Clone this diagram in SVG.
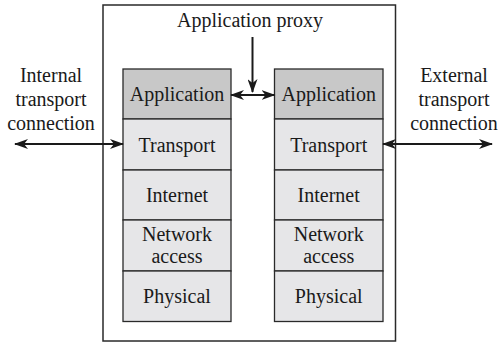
<svg xmlns="http://www.w3.org/2000/svg" width="500" height="343" viewBox="0 0 500 343">
<style>
text{font-family:"Liberation Serif","Times New Roman",serif;font-size:20px;fill:#1a1a1a;text-anchor:middle}
.app{fill:#c8c8c8;stroke:#2a2a2a;stroke-width:1.3}
.lyr{fill:#e6e6e8;stroke:#2a2a2a;stroke-width:1.3}
.frame{fill:none;stroke:#2a2a2a;stroke-width:1.5}
.conn{stroke:#1a1a1a;stroke-width:2;fill:none}
</style>
<defs>
<marker id="ah" viewBox="0 0 14 10" refX="13" refY="5" markerWidth="14" markerHeight="10" markerUnits="userSpaceOnUse" orient="auto-start-reverse">
<path d="M0,0 L14,5 L0,10 L4,5 Z" fill="#1a1a1a"/>
</marker>
</defs>
<g id="proxy-box">
<rect class="frame" x="103" y="5" width="292.5" height="336"/>
<text x="250" y="27">Application proxy</text>
</g>
<g id="left-stack">
<rect class="app" x="123" y="69" width="108" height="50"/>
<rect class="lyr" x="123" y="119" width="108" height="51"/>
<rect class="lyr" x="123" y="170" width="108" height="50"/>
<rect class="lyr" x="123" y="220" width="108" height="51"/>
<rect class="lyr" x="123" y="271" width="108" height="50.5"/>
<text x="177" y="101">Application</text>
<text x="177" y="152">Transport</text>
<text x="177" y="202">Internet</text>
<text x="177" y="241">Network</text>
<text x="177" y="263">access</text>
<text x="177" y="303">Physical</text>
</g>
<g id="right-stack">
<rect class="app" x="274.5" y="69" width="108.5" height="50"/>
<rect class="lyr" x="274.5" y="119" width="108.5" height="51"/>
<rect class="lyr" x="274.5" y="170" width="108.5" height="50"/>
<rect class="lyr" x="274.5" y="220" width="108.5" height="51"/>
<rect class="lyr" x="274.5" y="271" width="108.5" height="50.5"/>
<text x="328.7" y="101">Application</text>
<text x="328.7" y="152">Transport</text>
<text x="328.7" y="202">Internet</text>
<text x="328.7" y="241">Network</text>
<text x="328.7" y="263">access</text>
<text x="328.7" y="303">Physical</text>
</g>
<g id="internal-label">
<text x="51" y="82">Internal</text>
<text x="51" y="106">transport</text>
<text x="51" y="130">connection</text>
</g>
<g id="external-label">
<text x="454" y="82">External</text>
<text x="454" y="106">transport</text>
<text x="454" y="130">connection</text>
</g>
<g id="connectors">
<line class="conn" x1="15" y1="144" x2="123" y2="144" marker-start="url(#ah)" marker-end="url(#ah)"/>
<line class="conn" x1="383" y1="144" x2="492" y2="144" marker-start="url(#ah)" marker-end="url(#ah)"/>
<line class="conn" x1="231" y1="95" x2="274.5" y2="95" marker-start="url(#ah)" marker-end="url(#ah)"/>
<line class="conn" x1="252.5" y1="37" x2="252.5" y2="92" marker-end="url(#ah)"/>
</g>
</svg>
